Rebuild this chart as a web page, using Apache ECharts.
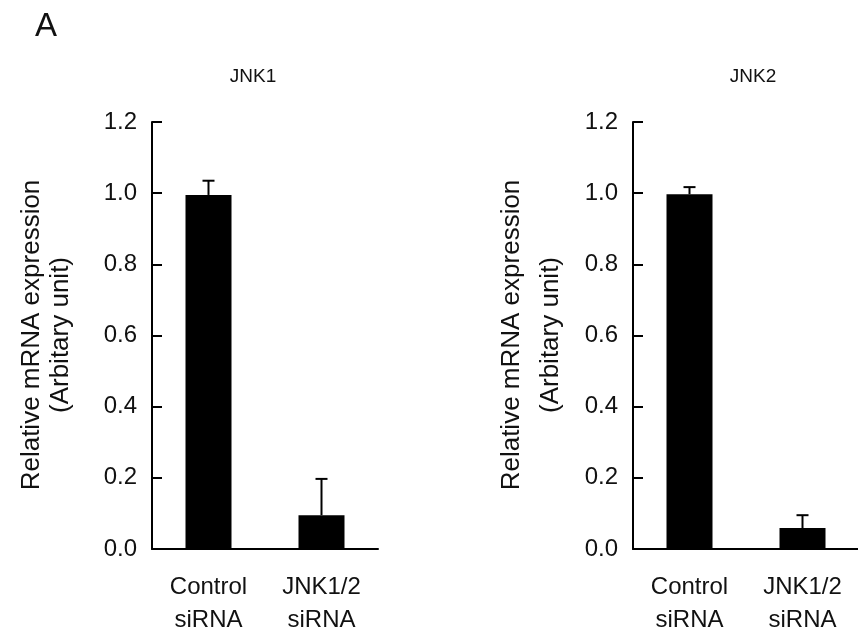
<!DOCTYPE html>
<html>
<head>
<meta charset="utf-8">
<script src="https://cdn.jsdelivr.net/npm/echarts@6/dist/echarts.min.js"></script>
<style>
html,body{margin:0;padding:0;background:#fff;}
#chart{width:858px;height:628px;}
</style>
</head>
<body>
<div id="chart"></div>
<script>
var categories = ['Control\nsiRNA', 'JNK1/2\nsiRNA'];
var yTicks = [0, 0.2, 0.4, 0.6, 0.8, 1.0, 1.2];
var jnk1Mean = [0.995, 0.095];
var jnk1Err = [0.04, 0.102];
var jnk2Mean = [0.997, 0.059];
var jnk2Err = [0.02, 0.036];
var panelTitles = ['JNK1', 'JNK2'];
var yNameLines = ['Relative mRNA expression', '(Arbitary unit)'];
var panelLabel = 'A';

var FONT = "'Liberation Sans', Arial, Helvetica, sans-serif";
var INK = '#111';

function errData(means, errs) {
  return means.map(function (m, i) { return [i, m, m + errs[i]]; });
}

function renderErr(params, api) {
  var x = api.value(0), y0 = api.value(1), y1 = api.value(2);
  var p0 = api.coord([x, y0]);
  var p1 = api.coord([x, y1]);
  var hw = 6;
  var st = { stroke: '#000', lineWidth: 2 };
  return {
    type: 'group',
    children: [
      { type: 'line', shape: { x1: p0[0], y1: p0[1], x2: p1[0], y2: p1[1] }, style: st },
      { type: 'line', shape: { x1: p1[0] - hw, y1: p1[1], x2: p1[0] + hw, y2: p1[1] }, style: st }
    ]
  };
}

function xAxisCfg(gi) {
  return {
    type: 'category', gridIndex: gi, data: categories,
    boundaryGap: true,
    axisLine: { lineStyle: { color: '#000', width: 2 } },
    axisTick: { inside: true, length: 9, lineStyle: { color: '#000', width: 2 } },
    axisLabel: { color: INK, fontSize: 24, fontFamily: FONT, lineHeight: 33, margin: 22 }
  };
}
function yAxisCfg(gi) {
  return {
    type: 'value', gridIndex: gi, min: yTicks[0], max: yTicks[yTicks.length - 1], interval: 0.2,
    axisLine: { show: true, lineStyle: { color: '#000', width: 2 } },
    axisTick: { show: true, inside: true, length: 10, lineStyle: { color: '#000', width: 2 } },
    splitLine: { show: false },
    axisLabel: { color: INK, fontSize: 24, fontFamily: FONT, margin: 15,
      formatter: function (v) { return v.toFixed(1); } }
  };
}

function textEl(x, y, txt, size, rot) {
  return {
    type: 'text', x: x, y: y, rotation: rot || 0,
    style: { text: txt, fill: INK, fontSize: size, fontFamily: FONT, align: 'center', verticalAlign: 'middle' }
  };
}

var chart = echarts.init(document.getElementById('chart'));
chart.setOption({
  animation: false,
  backgroundColor: '#fff',
  grid: [
    { left: 152, top: 122, width: 226, height: 427, containLabel: false, outerBoundsMode: 'none' },
    { left: 633, top: 122, width: 226, height: 427, containLabel: false, outerBoundsMode: 'none' }
  ],
  xAxis: [xAxisCfg(0), xAxisCfg(1)],
  yAxis: [yAxisCfg(0), yAxisCfg(1)],
  series: [
    { type: 'bar', xAxisIndex: 0, yAxisIndex: 0, data: jnk1Mean, barWidth: 46, itemStyle: { color: '#000' } },
    { type: 'custom', xAxisIndex: 0, yAxisIndex: 0, data: errData(jnk1Mean, jnk1Err), renderItem: renderErr, z: 5 },
    { type: 'bar', xAxisIndex: 1, yAxisIndex: 1, data: jnk2Mean, barWidth: 46, itemStyle: { color: '#000' } },
    { type: 'custom', xAxisIndex: 1, yAxisIndex: 1, data: errData(jnk2Mean, jnk2Err), renderItem: renderErr, z: 5 }
  ],
  graphic: [
    textEl(46, 27, panelLabel, 33),
    textEl(253, 77, panelTitles[0], 19),
    textEl(753, 77, panelTitles[1], 19),
    textEl(32, 335, yNameLines[0], 26, Math.PI / 2),
    textEl(61, 335, yNameLines[1], 26, Math.PI / 2),
    textEl(512, 335, yNameLines[0], 26, Math.PI / 2),
    textEl(551, 335, yNameLines[1], 26, Math.PI / 2)
  ]
});
</script>
</body>
</html>
